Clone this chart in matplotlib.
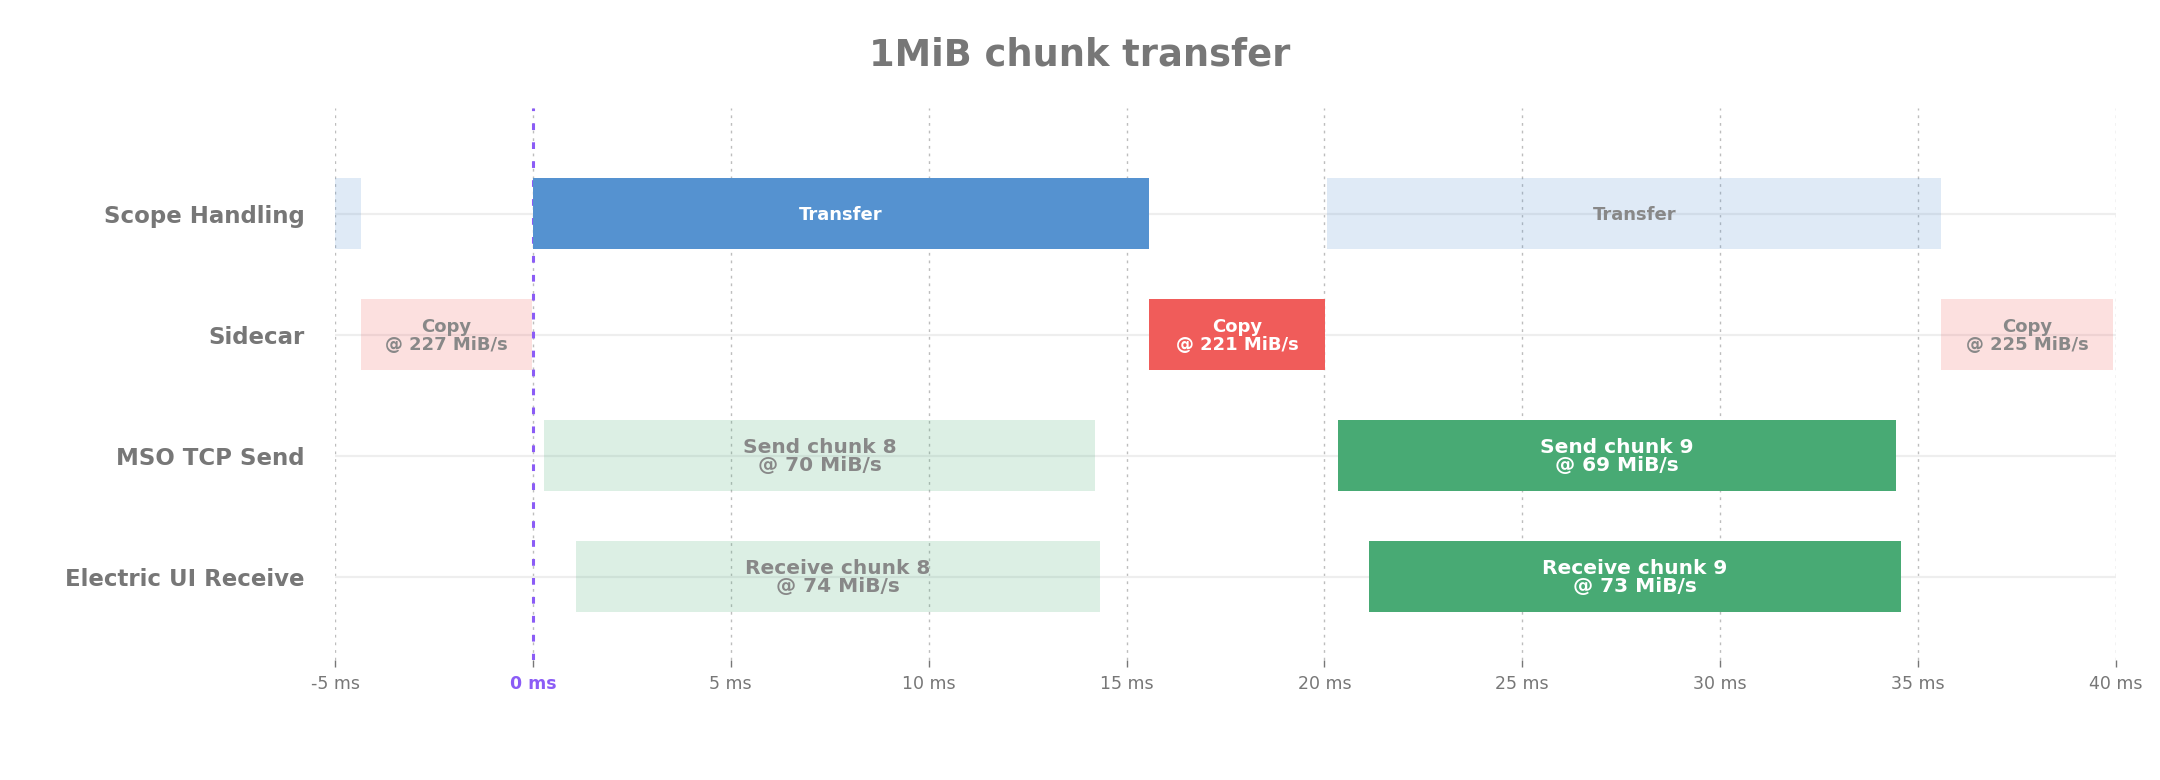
import matplotlib
matplotlib.use("Agg")
import matplotlib.pyplot as plt

plt.rcParams['font.family'] = ['DejaVu Sans']

title = "1MiB chunk transfer"
rows = ["Scope Handling", "Sidecar", "MSO TCP Send", "Electric UI Receive"]

# segments: (row index, start ms, end ms, label, active?)
seg_row = [0, 0, 0, 0, 1, 1, 1, 2, 2, 3, 3]
seg_start = [-5.0, 0.0, 20.07, 40.0, -4.35, 15.58, 35.59, 0.28, 20.35, 1.08, 21.13]
seg_end = [-4.35, 15.56, 35.59, 45.0, -0.03, 20.02, 39.92, 14.21, 34.44, 14.33, 34.56]
seg_label = ["", "Transfer", "Transfer", "",
             "Copy\n@ 227 MiB/s", "Copy\n@ 221 MiB/s", "Copy\n@ 225 MiB/s",
             "Send chunk 8\n@ 70 MiB/s", "Send chunk 9\n@ 69 MiB/s",
             "Receive chunk 8\n@ 74 MiB/s", "Receive chunk 9\n@ 73 MiB/s"]
seg_active = [False, True, False, False, False, True, False, False, True, False, True]

row_colors = ["#5592D0", "#F05C5A", "#48AA74", "#48AA74"]
row_fontsize = [13, 13, 14.5, 14.5]

xticks = [-5, 0, 5, 10, 15, 20, 25, 30, 35, 40]
xtick_labels = ["-5 ms", "0 ms", "5 ms", "10 ms", "15 ms", "20 ms", "25 ms", "30 ms", "35 ms", "40 ms"]
marker_x = 0

fig = plt.figure(figsize=(21.6, 7.8), dpi=100)
ax = fig.add_axes([0.1551, 0.1538, 0.8245, 0.7077])

ax.set_xlim(-5, 40)
ax.set_ylim(3.69, -0.874)

for s in ax.spines.values():
    s.set_visible(False)

# vertical dashed grid
for xt in xticks:
    ax.axvline(xt, color="#bdbdbd", lw=1.0, ls=(0, (2, 3.5)), zorder=0)
# row lines
for i in range(len(rows)):
    ax.axhline(i, color="#eeeeee", lw=1.6, zorder=0.5)

bar_h = 0.59
for r, s, e, lab, act in zip(seg_row, seg_start, seg_end, seg_label, seg_active):
    col = row_colors[r]
    if act:
        ax.barh(r, e - s, left=s, height=bar_h, color=col, zorder=3, linewidth=0)
        tc = "white"
    else:
        ax.barh(r, e - s, left=s, height=bar_h, color=col, alpha=0.19, zorder=2, linewidth=0)
        tc = "#888888"
    if lab:
        ax.text((s + e) / 2, r + 0.01, lab, ha="center", va="center", color=tc,
                fontsize=row_fontsize[r], fontweight="bold", linespacing=0.95, zorder=4)

ax.axvline(marker_x, color="#8B5CF6", lw=2.2, ls=(0, (2.2, 4)), zorder=2.5)

ax.set_yticks(range(len(rows)))
ax.set_yticklabels(rows, fontsize=16.5, fontweight="bold", color="#777777")
ax.tick_params(axis="y", length=0, pad=22)

ax.set_xticks(xticks)
ax.set_xticklabels(xtick_labels, fontsize=12.5, color="#777777")
ax.tick_params(axis="x", length=5, width=1, color="#777777", pad=6)
for lbl in ax.get_xticklabels():
    if lbl.get_text() == "0 ms":
        lbl.set_color("#8B5CF6")
        lbl.set_fontweight("bold")

fig.text(0.5, 0.929, title, ha="center", va="center", fontsize=26.5,
         fontweight="bold", color="#777777")

fig.savefig("out.png", dpi=100, facecolor="white")
